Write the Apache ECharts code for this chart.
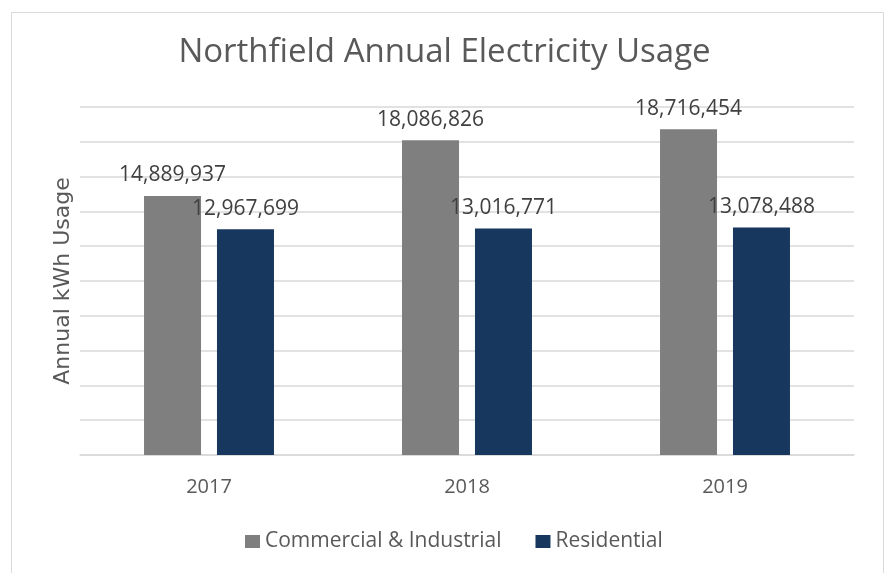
<!DOCTYPE html>
<html>
<head>
<meta charset="utf-8">
<script src="https://cdn.jsdelivr.net/npm/echarts@6/dist/echarts.min.js"></script>
<style>
html,body{margin:0;padding:0;background:#fff;}
#chart{width:889px;height:573px;}
</style>
</head>
<body>
<div id="chart"></div>
<script>
const categories = ['2017', '2018', '2019'];
const commercialIndustrial = [14889937, 18086826, 18716454];
const residential = [12967699, 13016771, 13078488];
const seriesNames = ['Commercial & Industrial', 'Residential'];

const textColor = '#595959';
const fmt = v => v.toLocaleString('en-US');

const chart = echarts.init(document.getElementById('chart'));
chart.setOption({
  animation: false,
  backgroundColor: '#ffffff',
  graphic: [{
    type: 'rect',
    shape: { x: 11.5, y: 12.5, width: 872, height: 600 },
    style: { fill: 'none', stroke: '#d9d9d9', lineWidth: 1 },
    silent: true
  }],
  title: {
    text: 'Northfield Annual Electricity Usage',
    left: 'center',
    top: 31,
    textStyle: { fontFamily: 'Open Sans', fontSize: 33, fontWeight: 'normal', color: textColor }
  },
  legend: {
    data: seriesNames,
    left: 240,
    top: 526,
    icon: 'rect',
    itemWidth: 15,
    itemHeight: 13,
    itemGap: 34,
    textStyle: { fontFamily: 'Open Sans', fontSize: 21, color: textColor }
  },
  grid: { left: 80, right: 35, top: 107, bottom: 118 },
  xAxis: {
    type: 'category',
    data: categories,
    axisLine: { lineStyle: { color: '#d9d9d9', width: 1.5 } },
    axisTick: { show: false },
    axisLabel: { fontFamily: 'Open Sans', fontSize: 20, color: textColor, margin: 22 }
  },
  yAxis: {
    type: 'value',
    min: 0,
    max: 20000000,
    interval: 2000000,
    name: 'Annual kWh Usage',
    nameLocation: 'middle',
    nameRotate: 90,
    nameGap: 6,
    nameTextStyle: { fontFamily: 'DejaVu Sans', fontSize: 22, color: textColor },
    axisLabel: { show: false },
    axisLine: { show: false },
    axisTick: { show: false },
    splitLine: { lineStyle: { color: '#d9d9d9', width: 1.5 } }
  },
  series: [
    {
      name: seriesNames[0],
      type: 'bar',
      data: commercialIndustrial,
      barWidth: 57,
      barGap: '28%',
      itemStyle: { color: '#7f7f7f' },
      label: {
        show: true, position: 'top', distance: 10,
        formatter: p => fmt(p.value),
        fontFamily: 'Open Sans', fontSize: 21, color: '#404040'
      }
    },
    {
      name: seriesNames[1],
      type: 'bar',
      data: residential,
      barWidth: 57,
      itemStyle: { color: '#17375e' },
      label: {
        show: true, position: 'top', distance: 10,
        formatter: p => fmt(p.value),
        fontFamily: 'Open Sans', fontSize: 21, color: '#404040'
      }
    }
  ]
});
</script>
</body>
</html>
